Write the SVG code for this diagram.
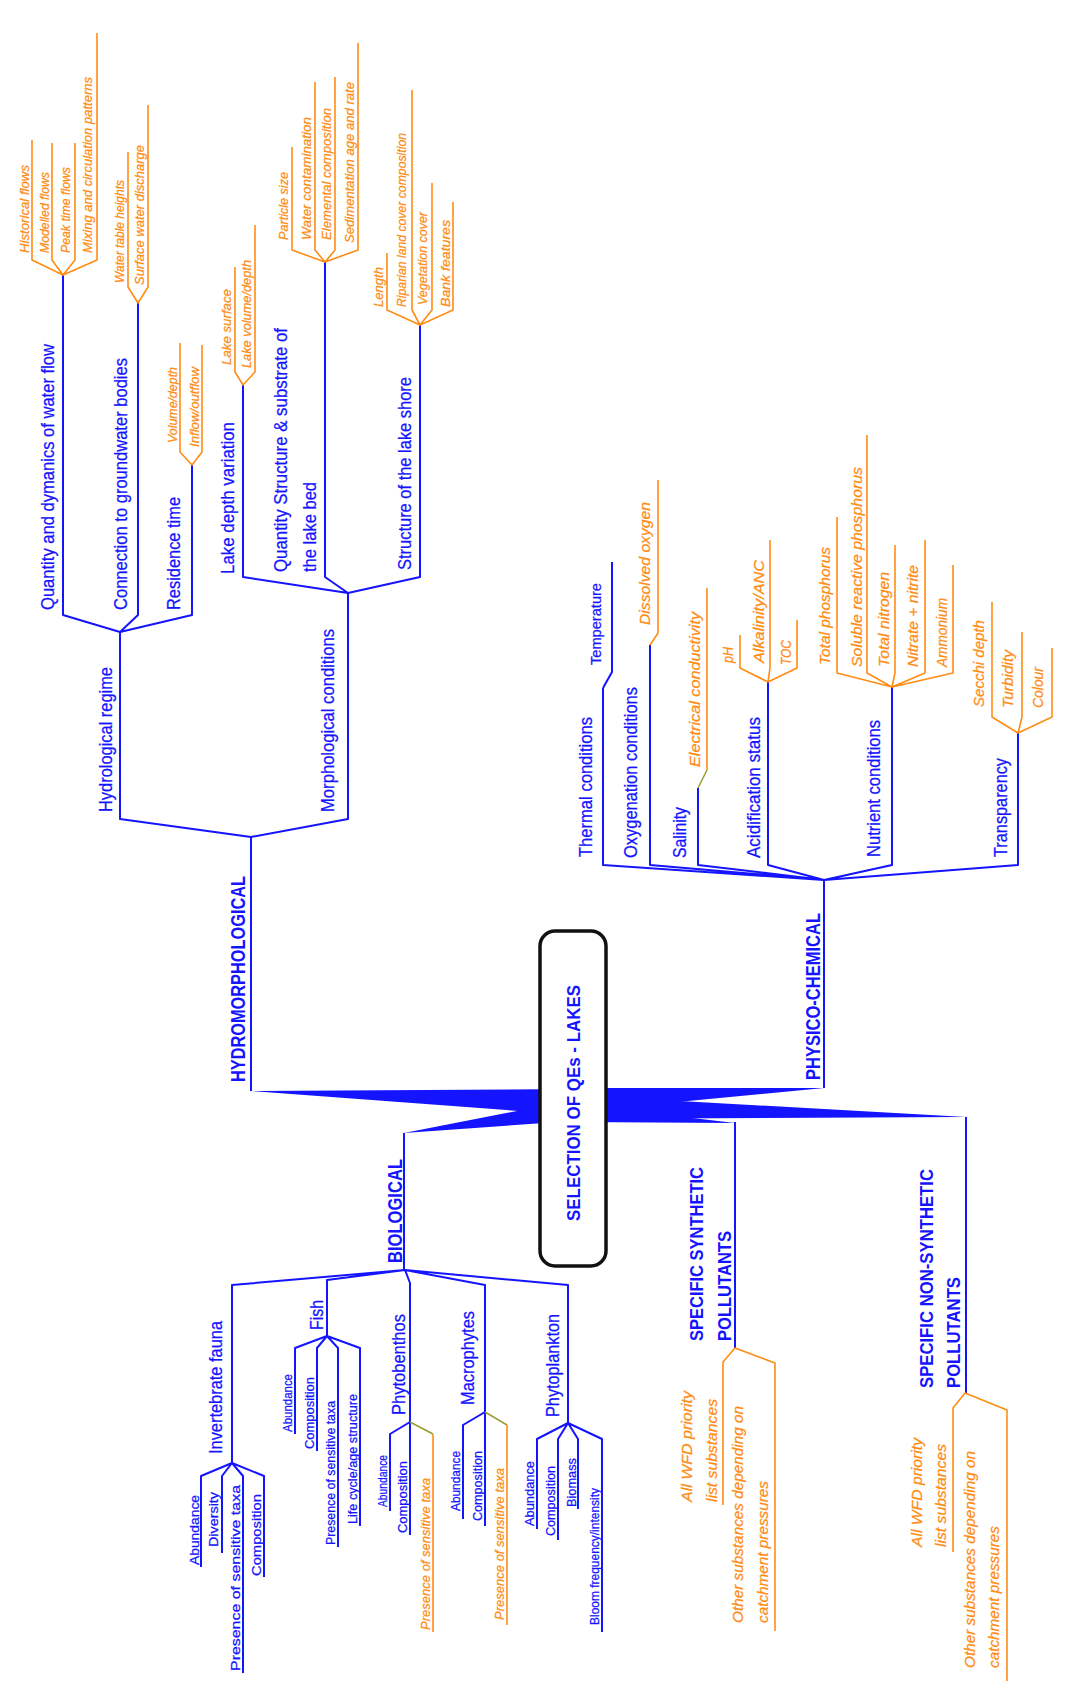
<svg xmlns="http://www.w3.org/2000/svg" width="1065" height="1686" viewBox="0 0 1065 1686">
<style>
  .b{fill:none;stroke:#1414ff;stroke-width:2;stroke-linejoin:round}
  .o{fill:none;stroke:#ff8c14;stroke-width:1.6;stroke-linejoin:round}
  .g{fill:none;stroke:#98a032;stroke-width:1.6}
  .w{fill:#1414ff;stroke:none}
  text{font-family:"Liberation Sans",Arial,sans-serif;fill:#1414ff;stroke:#1414ff;stroke-width:0.25}
  .cat{font-weight:bold;font-size:20px;stroke-width:0}
  .pol{font-weight:bold;font-size:19px;stroke-width:0}
  .ttl{font-weight:bold;font-size:18px;stroke-width:0}
  .m{font-size:18px}
  .s{font-size:13.5px}
  .os{font-size:12.5px;fill:#ff8c14;stroke:#ff8c14;font-style:italic}
  .op{font-size:15px;fill:#ff8c14;stroke:#ff8c14;font-style:italic}
  .ol{font-size:13.5px;fill:#ff8c14;stroke:#ff8c14;font-style:italic}
  .ow{font-size:15.5px;fill:#ff8c14;stroke:#ff8c14;font-style:italic}
</style>
<rect width="1065" height="1686" fill="#ffffff"/>

<g id="connectors">
  <!-- tapered trunks leaving the central box -->
  <polygon class="w" points="251,1091 573,1089 573,1115"/>
  <polygon class="w" points="404,1133 573,1100 573,1121"/>
  <polygon class="w" points="824,1088 573,1088 573,1112"/>
  <polygon class="w" points="735,1123 573,1104 573,1122"/>
  <polygon class="w" points="966,1117 573,1095 573,1119"/>

  <!-- hydromorphological -->
  <path class="b" d="M251,1091 V837"/>
  <path class="b" d="M120,632 V819 L251,837 L348,819 V593"/>
  <path class="b" d="M63,275 V615 L120,632 L138,615 V303 M120,632 L192,615 V465"/>
  <path class="b" d="M243,385 V577 L348,593 L325,577 V262 M348,593 L420,577 V325"/>
  <path class="o" d="M32,140 V260 L63,275 L52,260 V143 M63,275 L75,260 V143 M63,275 L97,260 V33"/>
  <path class="o" d="M128,152 V287 L138,303 L148,287 V105"/>
  <path class="o" d="M180,343 V452 L192,465 L202,452 V345"/>
  <path class="o" d="M235,267 V372 L243,385 L255,372 V225"/>
  <path class="o" d="M292,147 V250 L325,262 L315,250 V82 M325,262 L335,250 V77 M325,262 L358,250 V43"/>
  <path class="o" d="M387,253 V310 L420,325 L412,310 V90 M420,325 L432,310 V183 M420,325 L453,310 V202"/>

  <!-- physico-chemical -->
  <path class="b" d="M824,1088 V880"/>
  <path class="b" d="M603,688 V865 L824,880 L650,865 V645 M824,880 L698,865 V788 M824,880 L768,865 V682 M824,880 L892,865 V687 M824,880 L1018,865 V733"/>
  <path class="b" d="M603,688 L612,672 V562"/>
  <path class="o" d="M650,645 L658,633 V480"/>
  <path class="g" d="M698,788 L707,770"/>
  <path class="o" d="M707,770 V588"/>
  <path class="o" d="M740,635 V668 L768,682 L770,668 V540 M768,682 L797,668 V620"/>
  <path class="o" d="M837,517 V673 L892,687 L867,673 V435 M892,687 L895,673 V545 M892,687 L925,673 V540 M892,687 L953,673 V565"/>
  <path class="o" d="M992,602 V717 L1018,733 L1022,717 V632 M1018,733 L1052,717 V648"/>

  <!-- biological -->
  <path class="b" d="M404,1133 V1270"/>
  <path class="b" d="M232,1463 V1285 L405,1270 L327,1280 V1336 M405,1270 L410,1283 V1422 M405,1270 L485,1285 V1412 M405,1270 L568,1285 V1423"/>
  <path class="b" d="M201,1567 V1476 L232,1463 L222,1476 V1553 M232,1463 L243,1476 V1673 M232,1463 L264,1476 V1577"/>
  <path class="b" d="M295,1434 V1348 L327,1336 L317,1348 V1451 M327,1336 L338,1348 V1547 M327,1336 L360,1348 V1526"/>
  <path class="b" d="M390,1511 V1434 L410,1422 V1535"/>
  <path class="g" d="M410,1422 L433,1434"/>
  <path class="o" d="M433,1434 V1632"/>
  <path class="b" d="M463,1519 V1425 L485,1412 V1526"/>
  <path class="g" d="M485,1412 L507,1425"/>
  <path class="o" d="M507,1425 V1625"/>
  <path class="b" d="M537,1529 V1439 L568,1423 L558,1439 V1540 M568,1423 L578,1439 V1509 M568,1423 L602,1439 V1632"/>

  <!-- pollutants -->
  <path class="b" d="M735,1122 V1348"/>
  <path class="b" d="M966,1117 V1393"/>
  <path class="o" d="M723,1505 V1362 L735,1348 L775,1363 V1631"/>
  <path class="o" d="M953,1552 V1408 L965,1393 L1007,1410 V1681"/>
</g>

<g id="root">
  <rect x="540" y="931" width="66" height="335" rx="15" fill="#ffffff" stroke="#111111" stroke-width="3.5"/>
  <text class="ttl" transform="translate(580,1221) rotate(-90)" textLength="236" lengthAdjust="spacingAndGlyphs">SELECTION OF QEs - LAKES</text>
</g>

<g id="hydromorphological">
  <text class="cat" transform="translate(245,1082) rotate(-90)" textLength="206" lengthAdjust="spacingAndGlyphs">HYDROMORPHOLOGICAL</text>
</g>
<g id="hydrological-regime"><text class="m" transform="translate(112,812) rotate(-90)" textLength="145" lengthAdjust="spacingAndGlyphs">Hydrological regime</text></g>
<g id="morphological-conditions"><text class="m" transform="translate(334,812) rotate(-90)" textLength="183" lengthAdjust="spacingAndGlyphs">Morphological conditions</text></g>
<g id="water-flow"><text class="m" transform="translate(54,610) rotate(-90)" textLength="266" lengthAdjust="spacingAndGlyphs">Quantity and dymanics of water flow</text></g>
<g id="groundwater"><text class="m" transform="translate(127,610) rotate(-90)" textLength="252" lengthAdjust="spacingAndGlyphs">Connection to groundwater bodies</text></g>
<g id="residence-time"><text class="m" transform="translate(180,610) rotate(-90)" textLength="113" lengthAdjust="spacingAndGlyphs">Residence time</text></g>
<g id="lake-depth"><text class="m" transform="translate(234,574) rotate(-90)" textLength="152" lengthAdjust="spacingAndGlyphs">Lake depth variation</text></g>
<g id="lake-bed">
  <text class="m" transform="translate(287,572) rotate(-90)" textLength="244" lengthAdjust="spacingAndGlyphs">Quantity Structure &amp; substrate of</text>
  <text class="m" transform="translate(316,572) rotate(-90)" textLength="90" lengthAdjust="spacingAndGlyphs">the lake bed</text>
</g>
<g id="lake-shore"><text class="m" transform="translate(411,570) rotate(-90)" textLength="193" lengthAdjust="spacingAndGlyphs">Structure of the lake shore</text></g>

<g id="hydro-leaves">
  <text class="os" transform="translate(29,253) rotate(-90)" textLength="88" lengthAdjust="spacingAndGlyphs">Historical flows</text>
  <text class="os" transform="translate(49,253) rotate(-90)" textLength="81" lengthAdjust="spacingAndGlyphs">Modelled flows</text>
  <text class="os" transform="translate(70,253) rotate(-90)" textLength="86" lengthAdjust="spacingAndGlyphs">Peak time flows</text>
  <text class="os" transform="translate(92,253) rotate(-90)" textLength="176" lengthAdjust="spacingAndGlyphs">Mixing and circulation patterns</text>
  <text class="os" transform="translate(124,283) rotate(-90)" textLength="103" lengthAdjust="spacingAndGlyphs">Water table heights</text>
  <text class="os" transform="translate(144,285) rotate(-90)" textLength="140" lengthAdjust="spacingAndGlyphs">Surface water discharge</text>
  <text class="os" transform="translate(177,443) rotate(-90)" textLength="76" lengthAdjust="spacingAndGlyphs">Volume/depth</text>
  <text class="os" transform="translate(199,447) rotate(-90)" textLength="80" lengthAdjust="spacingAndGlyphs">Inflow/outflow</text>
  <text class="os" transform="translate(231,365) rotate(-90)" textLength="76" lengthAdjust="spacingAndGlyphs">Lake surface</text>
  <text class="os" transform="translate(251,368) rotate(-90)" textLength="108" lengthAdjust="spacingAndGlyphs">Lake volume/depth</text>
  <text class="os" transform="translate(288,240) rotate(-90)" textLength="68" lengthAdjust="spacingAndGlyphs">Particle size</text>
  <text class="os" transform="translate(311,240) rotate(-90)" textLength="123" lengthAdjust="spacingAndGlyphs">Water contamination</text>
  <text class="os" transform="translate(331,240) rotate(-90)" textLength="132" lengthAdjust="spacingAndGlyphs">Elemental composition</text>
  <text class="os" transform="translate(354,243) rotate(-90)" textLength="161" lengthAdjust="spacingAndGlyphs">Sedimentation age and rate</text>
  <text class="os" transform="translate(383,307) rotate(-90)" textLength="40" lengthAdjust="spacingAndGlyphs">Length</text>
  <text class="os" transform="translate(406,307) rotate(-90)" textLength="174" lengthAdjust="spacingAndGlyphs">Riparian land cover composition</text>
  <text class="os" transform="translate(427,305) rotate(-90)" textLength="93" lengthAdjust="spacingAndGlyphs">Vegetation cover</text>
  <text class="os" transform="translate(450,307) rotate(-90)" textLength="87" lengthAdjust="spacingAndGlyphs">Bank features</text>
</g>

<g id="physico-chemical">
  <text class="cat" transform="translate(820,1080) rotate(-90)" textLength="167" lengthAdjust="spacingAndGlyphs">PHYSICO-CHEMICAL</text>
</g>
<g id="thermal"><text class="m" transform="translate(592,857) rotate(-90)" textLength="140" lengthAdjust="spacingAndGlyphs">Thermal conditions</text>
  <text class="m" style="font-size:15px" transform="translate(601,665) rotate(-90)" textLength="82" lengthAdjust="spacingAndGlyphs">Temperature</text></g>
<g id="oxygenation"><text class="m" transform="translate(637,858) rotate(-90)" textLength="171" lengthAdjust="spacingAndGlyphs">Oxygenation conditions</text>
  <text class="op" transform="translate(650,625) rotate(-90)" textLength="123" lengthAdjust="spacingAndGlyphs">Dissolved oxygen</text></g>
<g id="salinity"><text class="m" transform="translate(686,858) rotate(-90)" textLength="51" lengthAdjust="spacingAndGlyphs">Salinity</text>
  <text class="op" transform="translate(700,767) rotate(-90)" textLength="155" lengthAdjust="spacingAndGlyphs">Electrical conductivity</text></g>
<g id="acidification"><text class="m" transform="translate(760,858) rotate(-90)" textLength="141" lengthAdjust="spacingAndGlyphs">Acidification status</text>
  <text class="op" transform="translate(733,663) rotate(-90)" textLength="16" lengthAdjust="spacingAndGlyphs">pH</text>
  <text class="op" transform="translate(764,663) rotate(-90)" textLength="103" lengthAdjust="spacingAndGlyphs">Alkalinity/ANC</text>
  <text class="op" transform="translate(791,665) rotate(-90)" textLength="25" lengthAdjust="spacingAndGlyphs">TOC</text></g>
<g id="nutrient"><text class="m" transform="translate(880,857) rotate(-90)" textLength="137" lengthAdjust="spacingAndGlyphs">Nutrient conditions</text>
  <text class="op" transform="translate(830,665) rotate(-90)" textLength="118" lengthAdjust="spacingAndGlyphs">Total phosphorus</text>
  <text class="op" transform="translate(862,667) rotate(-90)" textLength="200" lengthAdjust="spacingAndGlyphs">Soluble reactive phosphorus</text>
  <text class="op" transform="translate(889,667) rotate(-90)" textLength="95" lengthAdjust="spacingAndGlyphs">Total nitrogen</text>
  <text class="op" transform="translate(918,667) rotate(-90)" textLength="102" lengthAdjust="spacingAndGlyphs">Nitrate + nitrite</text>
  <text class="op" transform="translate(947,667) rotate(-90)" textLength="69" lengthAdjust="spacingAndGlyphs">Ammonium</text></g>
<g id="transparency"><text class="m" transform="translate(1007,857) rotate(-90)" textLength="99" lengthAdjust="spacingAndGlyphs">Transparency</text>
  <text class="op" transform="translate(984,707) rotate(-90)" textLength="87" lengthAdjust="spacingAndGlyphs">Secchi depth</text>
  <text class="op" transform="translate(1013,708) rotate(-90)" textLength="58" lengthAdjust="spacingAndGlyphs">Turbidity</text>
  <text class="op" transform="translate(1043,708) rotate(-90)" textLength="41" lengthAdjust="spacingAndGlyphs">Colour</text></g>

<g id="biological">
  <text class="cat" transform="translate(402,1263) rotate(-90)" textLength="104" lengthAdjust="spacingAndGlyphs">BIOLOGICAL</text>
</g>
<g id="invertebrate-fauna"><text class="m" transform="translate(222,1454) rotate(-90)" textLength="133" lengthAdjust="spacingAndGlyphs">Invertebrate fauna</text>
  <text class="s" transform="translate(199,1565) rotate(-90)" textLength="70" lengthAdjust="spacingAndGlyphs">Abundance</text>
  <text class="s" transform="translate(218,1547) rotate(-90)" textLength="55" lengthAdjust="spacingAndGlyphs">Diversity</text>
  <text class="s" transform="translate(240,1671) rotate(-90)" textLength="186" lengthAdjust="spacingAndGlyphs">Presence of sensitive taxa</text>
  <text class="s" transform="translate(261,1576) rotate(-90)" textLength="82" lengthAdjust="spacingAndGlyphs">Composition</text></g>
<g id="fish"><text class="m" transform="translate(323,1330) rotate(-90)" textLength="30" lengthAdjust="spacingAndGlyphs">Fish</text>
  <text class="s" transform="translate(292,1432) rotate(-90)" textLength="58" lengthAdjust="spacingAndGlyphs">Abundance</text>
  <text class="s" transform="translate(314,1449) rotate(-90)" textLength="72" lengthAdjust="spacingAndGlyphs">Composition</text>
  <text class="s" transform="translate(335,1545) rotate(-90)" textLength="144" lengthAdjust="spacingAndGlyphs">Presence of sensitive taxa</text>
  <text class="s" transform="translate(357,1524) rotate(-90)" textLength="130" lengthAdjust="spacingAndGlyphs">Life cycle/age structure</text></g>
<g id="phytobenthos"><text class="m" transform="translate(405,1415) rotate(-90)" textLength="101" lengthAdjust="spacingAndGlyphs">Phytobenthos</text>
  <text class="s" transform="translate(387,1507) rotate(-90)" textLength="52" lengthAdjust="spacingAndGlyphs">Abundance</text>
  <text class="s" transform="translate(407,1533) rotate(-90)" textLength="72" lengthAdjust="spacingAndGlyphs">Composition</text>
  <text class="ol" transform="translate(430,1630) rotate(-90)" textLength="152" lengthAdjust="spacingAndGlyphs">Presence of sensitive taxa</text></g>
<g id="macrophytes"><text class="m" transform="translate(474,1405) rotate(-90)" textLength="94" lengthAdjust="spacingAndGlyphs">Macrophytes</text>
  <text class="s" transform="translate(460,1511) rotate(-90)" textLength="60" lengthAdjust="spacingAndGlyphs">Abundance</text>
  <text class="s" transform="translate(482,1521) rotate(-90)" textLength="70" lengthAdjust="spacingAndGlyphs">Composition</text>
  <text class="ol" transform="translate(504,1620) rotate(-90)" textLength="152" lengthAdjust="spacingAndGlyphs">Presence of sensitive taxa</text></g>
<g id="phytoplankton"><text class="m" transform="translate(559,1417) rotate(-90)" textLength="103" lengthAdjust="spacingAndGlyphs">Phytoplankton</text>
  <text class="s" transform="translate(534,1526) rotate(-90)" textLength="65" lengthAdjust="spacingAndGlyphs">Abundance</text>
  <text class="s" transform="translate(555,1536) rotate(-90)" textLength="70" lengthAdjust="spacingAndGlyphs">Composition</text>
  <text class="s" transform="translate(576,1507) rotate(-90)" textLength="49" lengthAdjust="spacingAndGlyphs">Biomass</text>
  <text class="s" transform="translate(599,1625) rotate(-90)" textLength="137" lengthAdjust="spacingAndGlyphs">Bloom frequency/intensity</text></g>

<g id="synthetic-pollutants">
  <text class="pol" transform="translate(703,1341) rotate(-90)" textLength="174" lengthAdjust="spacingAndGlyphs">SPECIFIC SYNTHETIC</text>
  <text class="pol" transform="translate(731,1341) rotate(-90)" textLength="110" lengthAdjust="spacingAndGlyphs">POLLUTANTS</text>
  <text class="ow" transform="translate(692,1502) rotate(-90)" textLength="111" lengthAdjust="spacingAndGlyphs">All WFD priority</text>
  <text class="ow" transform="translate(717,1502) rotate(-90)" textLength="103" lengthAdjust="spacingAndGlyphs">list substances</text>
  <text class="ow" transform="translate(743,1623) rotate(-90)" textLength="217" lengthAdjust="spacingAndGlyphs">Other substances depending on</text>
  <text class="ow" transform="translate(768,1623) rotate(-90)" textLength="142" lengthAdjust="spacingAndGlyphs">catchment pressures</text>
</g>
<g id="non-synthetic-pollutants">
  <text class="pol" transform="translate(933,1388) rotate(-90)" textLength="219" lengthAdjust="spacingAndGlyphs">SPECIFIC NON-SYNTHETIC</text>
  <text class="pol" transform="translate(960,1388) rotate(-90)" textLength="111" lengthAdjust="spacingAndGlyphs">POLLUTANTS</text>
  <text class="ow" transform="translate(922,1547) rotate(-90)" textLength="109" lengthAdjust="spacingAndGlyphs">All WFD priority</text>
  <text class="ow" transform="translate(946,1547) rotate(-90)" textLength="103" lengthAdjust="spacingAndGlyphs">list substances</text>
  <text class="ow" transform="translate(975,1668) rotate(-90)" textLength="217" lengthAdjust="spacingAndGlyphs">Other substances depending on</text>
  <text class="ow" transform="translate(999,1668) rotate(-90)" textLength="142" lengthAdjust="spacingAndGlyphs">catchment pressures</text>
</g>
</svg>
